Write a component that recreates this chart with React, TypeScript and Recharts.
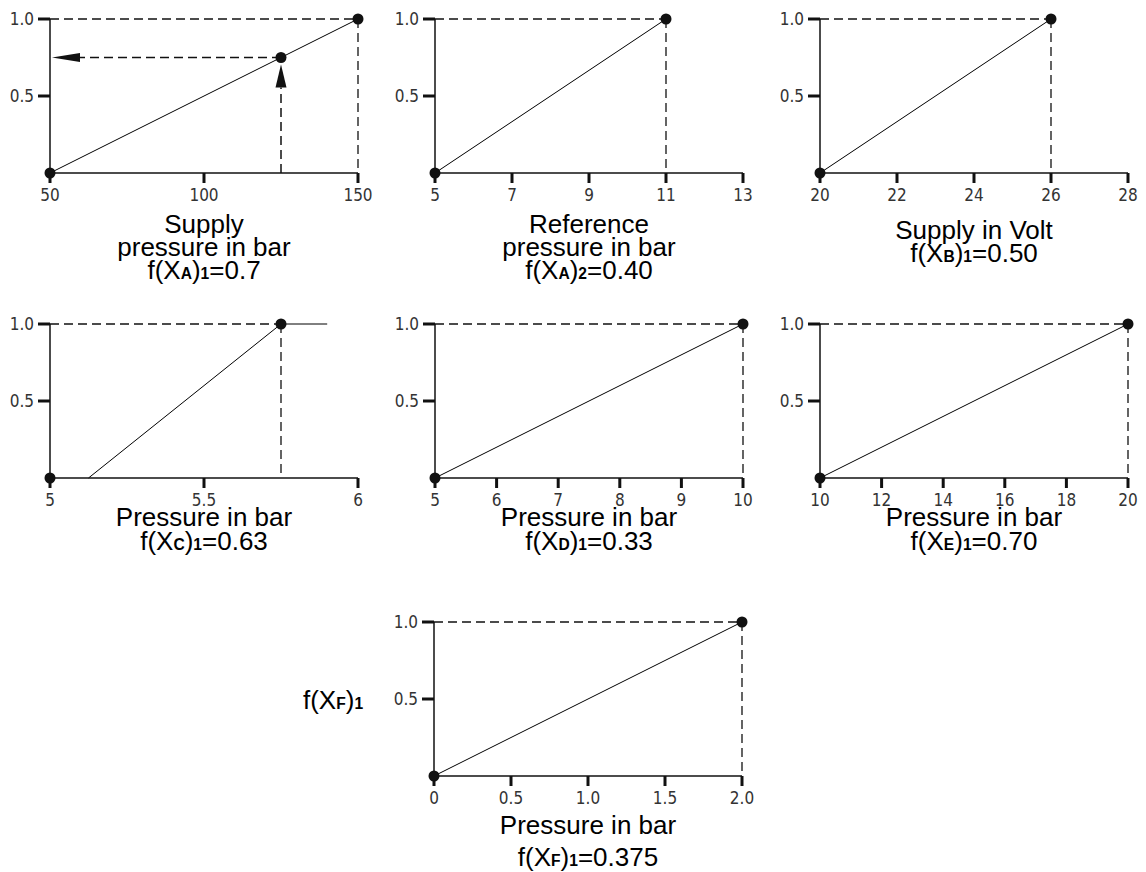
import React from 'react'
import {
  ComposedChart,
  Line,
  XAxis,
  YAxis,
  ReferenceLine,
  ReferenceDot,
} from 'recharts'

/* ─── Theme constants ──────────────────────────────────────────── */

const INK = '#111111'
const TICK_FONT = '"Liberation Sans Narrow", "DejaVu Sans Condensed", sans-serif'
const TITLE_FONT = '"Liberation Sans", Arial, sans-serif'

const PLOT_W = 308
const PLOT_H = 154
const M_LEFT = 60
const M_TOP = 15
const M_RIGHT = 30
const AXIS_H = 40

/* ─── Data ─────────────────────────────────────────────────────── */

const yTicks = [0.5, 1.0]

const supplyPressureTicks = [50, 100, 150]
const supplyPressureCurve = [{ x: 50, y: 0 }, { x: 150, y: 1 }]
const supplyPressureDots = [{ x: 50, y: 0 }, { x: 125, y: 0.75 }, { x: 150, y: 1 }]
const supplyPressureArrows = [
  [{ x: 125, y: 0 }, { x: 125, y: 0.75 }],
  [{ x: 125, y: 0.75 }, { x: 50, y: 0.75 }],
]

const referencePressureTicks = [5, 7, 9, 11, 13]
const referencePressureCurve = [{ x: 5, y: 0 }, { x: 11, y: 1 }]

const supplyVoltTicks = [20, 22, 24, 26, 28]
const supplyVoltCurve = [{ x: 20, y: 0 }, { x: 26, y: 1 }]

const pressureCTicks = [5, 5.5, 6]
const pressureCCurve = [{ x: 5.125, y: 0 }, { x: 5.75, y: 1 }, { x: 5.9, y: 1 }]
const pressureCDots = [{ x: 5, y: 0 }, { x: 5.75, y: 1 }]

const pressureDTicks = [5, 6, 7, 8, 9, 10]
const pressureDCurve = [{ x: 5, y: 0 }, { x: 10, y: 1 }]

const pressureETicks = [10, 12, 14, 16, 18, 20]
const pressureECurve = [{ x: 10, y: 0 }, { x: 20, y: 1 }]

const pressureFTicks = [0, 0.5, 1, 1.5, 2]
const pressureFTickLabels = ['0', '0.5', '1.0', '1.5', '2.0']
const pressureFCurve = [{ x: 0, y: 0 }, { x: 2, y: 1 }]

/* ─── Subscripted f(X) text ────────────────────────────────────── */

function Fx({ letter, idx, value }: { letter: string; idx: string; value?: string }) {
  return (
    <>
      f(X<span style={{ fontSize: '0.6em', fontWeight: 700 }}>{letter}</span>)
      <span style={{ fontSize: '0.6em', fontWeight: 700 }}>{idx}</span>
      {value ? `=${value}` : ''}
    </>
  )
}

/* ─── Arrow for the read-off guides ────────────────────────────── */

function ArrowShape(props: any) {
  const { x1, y1, x2, y2, gap, len, half } = props
  const dx = x2 - x1
  const dy = y2 - y1
  const d = Math.hypot(dx, dy) || 1
  const ux = dx / d
  const uy = dy / d
  const tx = x2 - ux * gap
  const ty = y2 - uy * gap
  const bx = tx - ux * len
  const by = ty - uy * len
  const nx = -uy * half
  const ny = ux * half
  return (
    <g>
      <line x1={x1} y1={y1} x2={bx} y2={by} stroke={INK} strokeWidth={1.5} strokeDasharray="9 5" />
      <polygon points={`${tx},${ty} ${bx + nx},${by + ny} ${bx - nx},${by - ny}`} fill={INK} />
    </g>
  )
}

/* ─── One membership panel ─────────────────────────────────────── */

type Pt = { x: number; y: number }

interface PanelProps {
  left: number
  top: number
  domain: [number, number]
  ticks: number[]
  tickLabels?: string[]
  curve: Pt[]
  dots: Pt[]
  arrows?: Pt[][]
}

function Panel({ left, top, domain, ticks, tickLabels, curve, dots, arrows = [] }: PanelProps) {
  const peak = dots.find((p) => p.y === 1)
  const fmtX = (v: number) => {
    const i = ticks.indexOf(v)
    return tickLabels && i >= 0 ? tickLabels[i] : String(v)
  }
  return (
    <div style={{ position: 'absolute', left: left - M_LEFT, top: top - M_TOP }}>
      <ComposedChart
        width={M_LEFT + PLOT_W + M_RIGHT}
        height={M_TOP + PLOT_H + AXIS_H}
        data={curve}
        margin={{ top: M_TOP, right: M_RIGHT, left: 0, bottom: 0 }}
      >
        <XAxis
          dataKey="x"
          type="number"
          domain={domain}
          ticks={ticks}
          interval={0}
          allowDataOverflow
          height={AXIS_H}
          axisLine={{ stroke: INK, strokeWidth: 1.5 }}
          tickLine={{ stroke: INK, strokeWidth: 3 }}
          tickSize={10}
          tickMargin={6}
          tick={{ fill: '#333', fontSize: 17, fontFamily: TICK_FONT }}
          tickFormatter={fmtX}
        />
        <YAxis
          type="number"
          domain={[0, 1]}
          ticks={yTicks}
          interval={0}
          width={M_LEFT}
          axisLine={{ stroke: INK, strokeWidth: 1.5 }}
          tickLine={{ stroke: INK, strokeWidth: 3 }}
          tickSize={12}
          tickMargin={4}
          tick={{ fill: '#333', fontSize: 17, fontFamily: TICK_FONT }}
          tickFormatter={(v: number) => v.toFixed(1)}
        />
        {peak && (
          <ReferenceLine
            segment={[{ x: domain[0], y: 1 }, { x: peak.x, y: 1 }]}
            stroke={INK}
            strokeWidth={1.3}
            strokeDasharray="9 5"
            ifOverflow="visible"
          />
        )}
        {peak && (
          <ReferenceLine
            segment={[{ x: peak.x, y: 1 }, { x: peak.x, y: 0 }]}
            stroke={INK}
            strokeWidth={1.3}
            strokeDasharray="9 5"
            ifOverflow="visible"
          />
        )}
        {arrows.map((seg, i) => {
          const vertical = seg[0].x === seg[1].x
          return (
            <ReferenceLine
              key={`arrow-${i}`}
              segment={seg}
              ifOverflow="visible"
              shape={(p: any) => (
                <ArrowShape {...p} gap={vertical ? 7 : 2} len={vertical ? 23 : 28} half={vertical ? 5.5 : 4.5} />
              )}
            />
          )
        })}
        <Line
          dataKey="y"
          type="linear"
          stroke="#000"
          strokeWidth={1}
          dot={false}
          activeDot={false}
          isAnimationActive={false}
        />
        {dots.map((p, i) => (
          <ReferenceDot key={`dot-${i}`} x={p.x} y={p.y} r={5.5} fill={INK} stroke="none" ifOverflow="visible" />
        ))}
      </ComposedChart>
    </div>
  )
}

/* ─── Caption line under a panel ───────────────────────────────── */

function Caption({ cx, cy, children }: { cx: number; cy: number; children: React.ReactNode }) {
  return (
    <div
      style={{
        position: 'absolute',
        left: cx - 200,
        top: cy - 12,
        width: 400,
        lineHeight: '24px',
        textAlign: 'center',
        fontFamily: TITLE_FONT,
        fontSize: 26,
        color: '#000',
        whiteSpace: 'nowrap',
      }}
    >
      {children}
    </div>
  )
}

export default function App() {
  const cxL = 50 + PLOT_W / 2
  const cxM = 435 + PLOT_W / 2
  const cxR = 820 + PLOT_W / 2
  return (
    <div
      style={{
        position: 'absolute',
        left: 0,
        top: 0,
        width: 1146,
        height: 872,
        overflow: 'hidden',
        background: '#fff',
      }}
    >
      <Panel left={50} top={19} domain={[50, 150]} ticks={supplyPressureTicks} curve={supplyPressureCurve} dots={supplyPressureDots} arrows={supplyPressureArrows} />
      <Panel left={435} top={19} domain={[5, 13]} ticks={referencePressureTicks} curve={referencePressureCurve} dots={referencePressureCurve} />
      <Panel left={820} top={19} domain={[20, 28]} ticks={supplyVoltTicks} curve={supplyVoltCurve} dots={supplyVoltCurve} />
      <Panel left={50} top={324} domain={[5, 6]} ticks={pressureCTicks} curve={pressureCCurve} dots={pressureCDots} />
      <Panel left={435} top={324} domain={[5, 10]} ticks={pressureDTicks} curve={pressureDCurve} dots={pressureDCurve} />
      <Panel left={820} top={324} domain={[10, 20]} ticks={pressureETicks} curve={pressureECurve} dots={pressureECurve} />
      <Panel left={434} top={622} domain={[0, 2]} ticks={pressureFTicks} tickLabels={pressureFTickLabels} curve={pressureFCurve} dots={pressureFCurve} />

      <Caption cx={cxL} cy={224}>Supply</Caption>
      <Caption cx={cxL} cy={247}>pressure in bar</Caption>
      <Caption cx={cxL} cy={270}><Fx letter="A" idx="1" value="0.7" /></Caption>

      <Caption cx={cxM} cy={224}>Reference</Caption>
      <Caption cx={cxM} cy={247}>pressure in bar</Caption>
      <Caption cx={cxM} cy={270}><Fx letter="A" idx="2" value="0.40" /></Caption>

      <Caption cx={cxR} cy={230}>Supply in Volt</Caption>
      <Caption cx={cxR} cy={253}><Fx letter="B" idx="1" value="0.50" /></Caption>

      <Caption cx={cxL} cy={517}>Pressure in bar</Caption>
      <Caption cx={cxL} cy={541}><Fx letter="C" idx="1" value="0.63" /></Caption>

      <Caption cx={cxM} cy={517}>Pressure in bar</Caption>
      <Caption cx={cxM} cy={541}><Fx letter="D" idx="1" value="0.33" /></Caption>

      <Caption cx={cxR} cy={517}>Pressure in bar</Caption>
      <Caption cx={cxR} cy={541}><Fx letter="E" idx="1" value="0.70" /></Caption>

      <Caption cx={434 + PLOT_W / 2} cy={825}>Pressure in bar</Caption>
      <Caption cx={434 + PLOT_W / 2} cy={857}><Fx letter="F" idx="1" value="0.375" /></Caption>

      <Caption cx={333} cy={700}><Fx letter="F" idx="1" /></Caption>
    </div>
  )
}
